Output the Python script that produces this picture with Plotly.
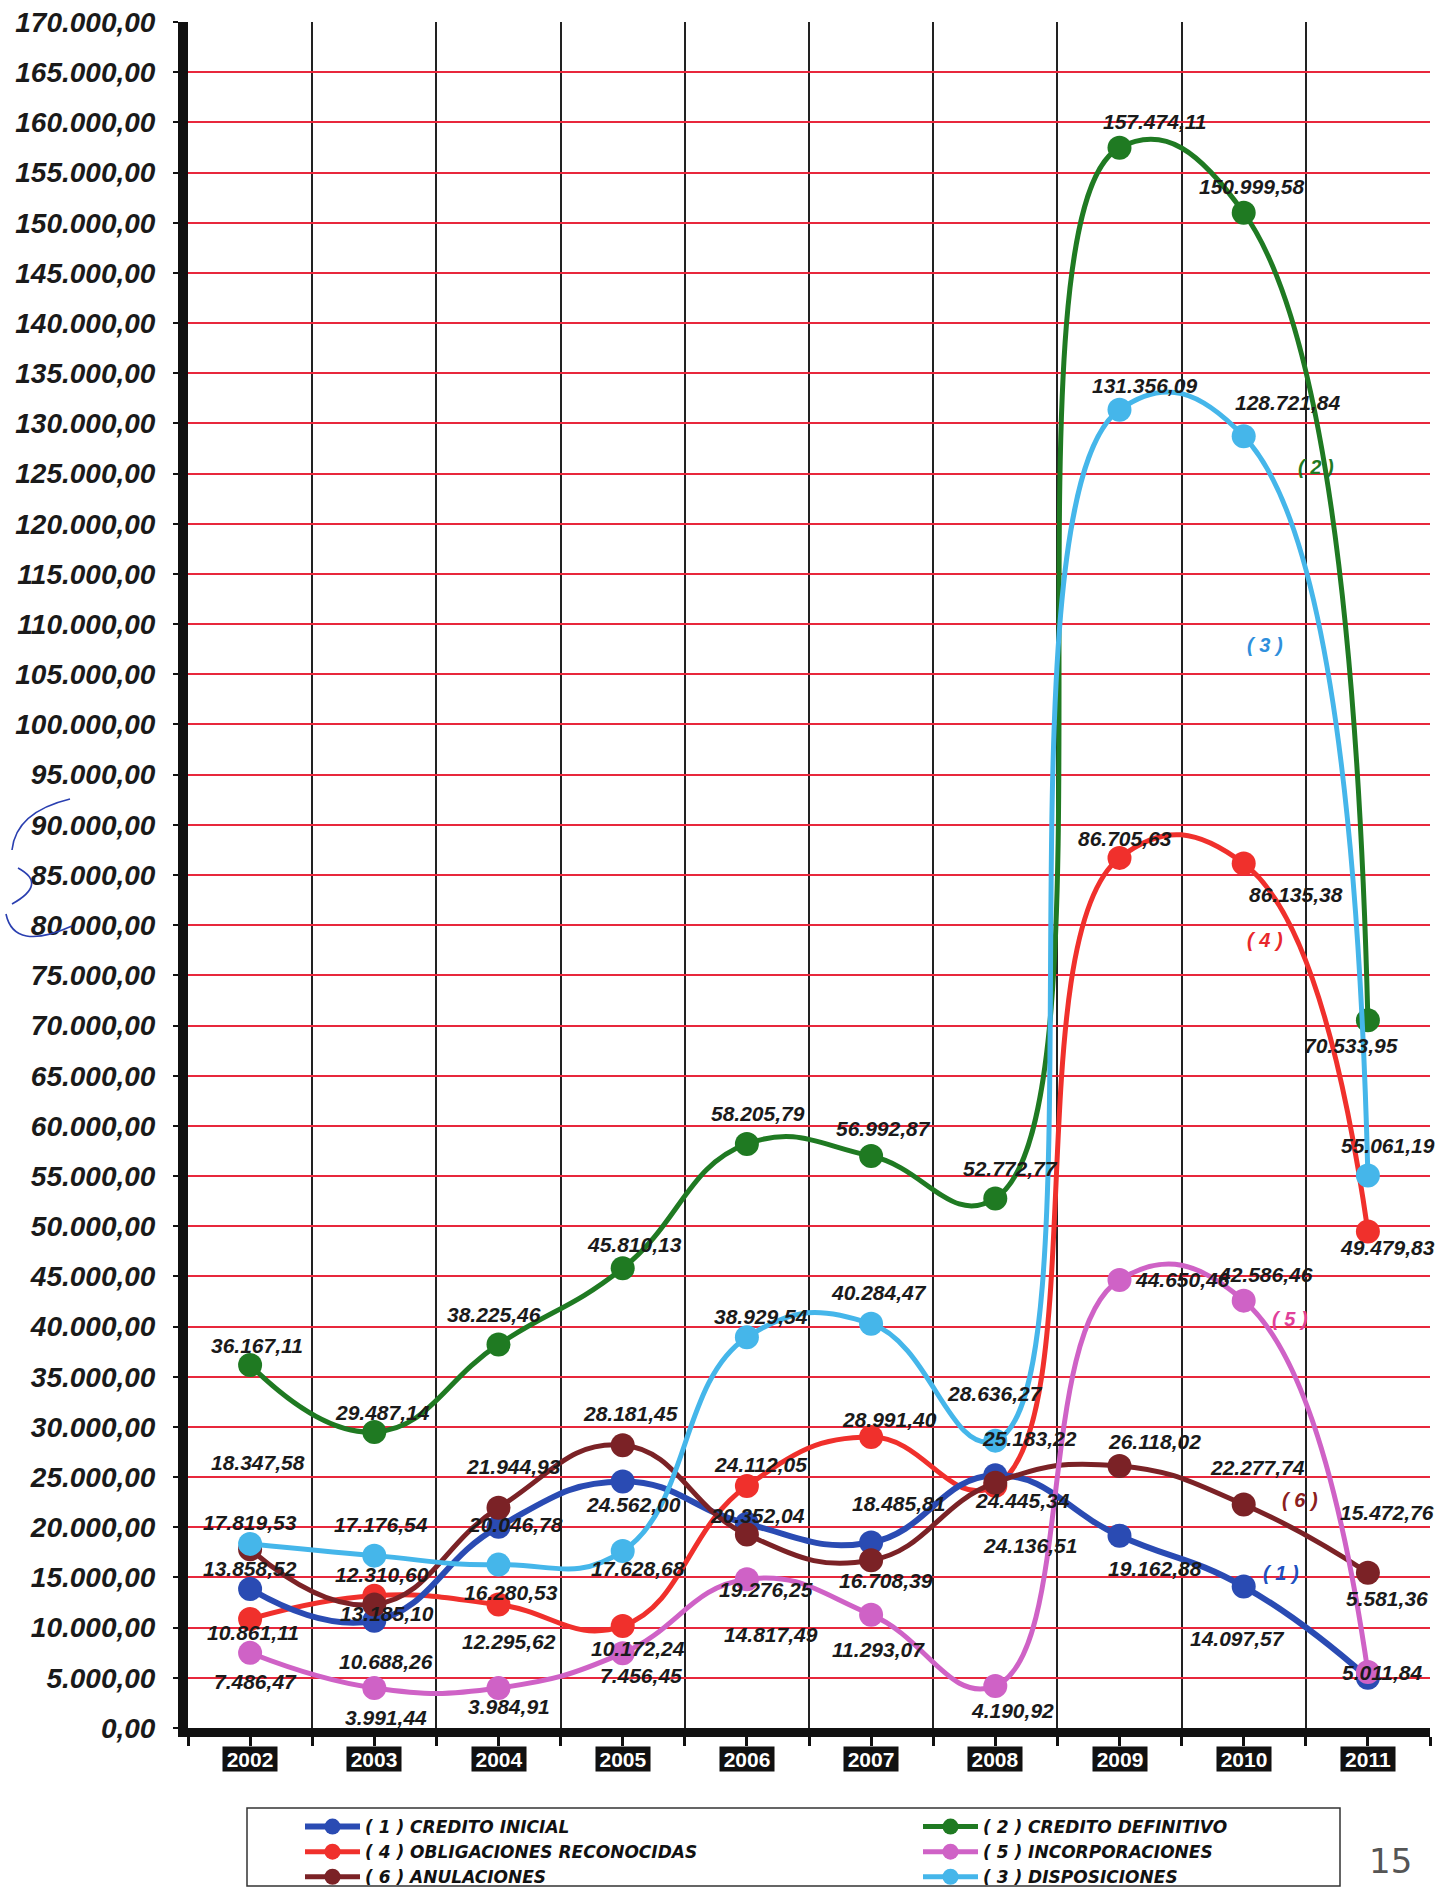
import plotly.graph_objects as go

# ---------------------------------------------------------------- data
years = ["2002", "2003", "2004", "2005", "2006", "2007", "2008", "2009", "2010", "2011"]

credito_inicial = [13858.52, 10688.26, 20046.78, 24562.00, 20352.04,
                   18485.81, 25183.22, 19162.88, 14097.57, 5011.84]
credito_definitivo = [36167.11, 29487.14, 38225.46, 45810.13, 58205.79,
                      56992.87, 52772.77, 157474.11, 150999.58, 70533.95]
disposiciones = [18347.58, 17176.54, 16280.53, 17628.68, 38929.54,
                 40284.47, 28636.27, 131356.09, 128721.84, 55061.19]
obligaciones_reconocidas = [10861.11, 13185.10, 12295.62, 10172.24, 24112.05,
                            28991.40, 24136.51, 86705.63, 86135.38, 49479.83]
incorporaciones = [7486.47, 3991.44, 3984.91, 7456.45, 14817.49,
                   11293.07, 4190.92, 44650.46, 42586.46, 5581.36]
anulaciones = [17819.53, 12310.60, 21944.93, 28181.45, 19276.25,
               16708.39, 24445.34, 26118.02, 22277.74, 15472.76]

# ---------------------------------------------------------------- styling
FONT = "Liberation Sans, Arial, sans-serif"
LEGEND_FONT = "DejaVu Sans, Liberation Sans, sans-serif"
GRID_RED = "#e8283c"

# plot area in figure pixels (used to place frame / page decorations)
PLOT_L, PLOT_R, PLOT_T, PLOT_B = 188, 1430, 22, 1728


def px_to_paper(px, py):
    return ((px - PLOT_L) / (PLOT_R - PLOT_L), (PLOT_B - py) / (PLOT_B - PLOT_T))


# pixel offsets (dx, dy; dy positive = downwards) of each value label from its point
label_offsets = {
    "ini": [(0, -20), (12, 41), (17, -2), (11, 23), (11, -8), (27, -39), (34, -37), (35, 33), (-6, 52), (15, -5)],
    "def": [(7, -20), (8, -20), (-5, -30), (12, -24), (11, -30), (12, -28), (15, -30), (35, -26), (8, -26), (-17, 25)],
    "dis": [(8, -81), (7, -31), (12, 28), (15, 17), (14, -21), (8, -31), (0, -47), (25, -24), (44, -34), (20, -30)],
    "obl": [(3, 13), (13, 18), (10, 37), (15, 23), (14, -22), (18, -18), (35, 60), (5, -19), (52, 31), (20, 16)],
    "inc": [(5, 29), (12, 30), (10, 18), (18, 22), (24, 55), (7, 35), (17, 25), (63, 0), (22, -26), (19, -73)],
    "anu": [(0, -27), (8, -30), (15, -41), (8, -32), (19, 55), (15, 20), (27, 18), (35, -24), (14, -37), (19, -60)],
}

# series in drawing order (bottom to top); rank gives the legend order
series = [
    ("def", "( 2 ) CREDITO DEFINITIVO", credito_definitivo, "#1f7a22", 2, 5),
    ("obl", "( 4 ) OBLIGACIONES RECONOCIDAS", obligaciones_reconocidas, "#f0302c", 3, 5),
    ("ini", "( 1 ) CREDITO INICIAL", credito_inicial, "#2a4bb3", 1, 6),
    ("anu", "( 6 ) ANULACIONES", anulaciones, "#7b2226", 5, 5),
    ("inc", "( 5 ) INCORPORACIONES", incorporaciones, "#cf62c6", 4, 5),
    ("dis", "( 3 ) DISPOSICIONES", disposiciones, "#45b6ea", 6, 5),
]


def es_num(v):
    """Spanish number format: 157.474,11"""
    return f"{v:,.2f}".replace(",", "X").replace(".", ",").replace("X", ".")


x_idx = list(range(len(years)))

fig = go.Figure()
annotations = []

for key, name, vals, color, rank, lw in series:
    fig.add_trace(go.Scatter(
        x=x_idx, y=vals, name=name, mode="lines+markers",
        line=dict(color=color, width=lw, shape="spline", smoothing=1.3),
        marker=dict(color=color, size=24),
        legendrank=rank, cliponaxis=False,
    ))
    for i, v in enumerate(vals):
        dx, dy = label_offsets[key][i]
        annotations.append(dict(
            x=i, y=v, xref="x", yref="y", text=es_num(v), showarrow=False,
            xshift=dx, yshift=-dy,
            font=dict(family=FONT, size=21, color="#1a1a1a", weight="bold", style="italic"),
        ))

# year labels: white on black boxes under the axis
for i, yr in enumerate(years):
    annotations.append(dict(
        x=i, y=0, xref="x", yref="paper", yanchor="middle", xanchor="center", yshift=-31,
        text=yr, showarrow=False, bgcolor="#111111", width=54, height=24, borderpad=0,
        font=dict(family=FONT, size=21, color="white", weight="bold"),
    ))

# series tags next to the falling curves
tags = [
    ("( 2 )", 8.58, 125700, "#1f7a22"),
    ("( 3 )", 8.17, 107900, "#2f8fdc"),
    ("( 4 )", 8.17, 78500, "#e8282c"),
    ("( 5 )", 8.37, 40800, "#e0409a"),
    ("( 6 )", 8.45, 22700, "#8b2020"),
    ("( 1 )", 8.30, 15400, "#2050c0"),
]
for txt, tx, ty, tc in tags:
    annotations.append(dict(
        x=tx, y=ty, xref="x", yref="y", text=txt, showarrow=False,
        font=dict(family=FONT, size=20, color=tc, weight="bold", style="italic"),
    ))

# page number
pn_x, pn_y = px_to_paper(1390, 1861)
annotations.append(dict(
    x=pn_x, y=pn_y, xref="paper", yref="paper", xanchor="center", yanchor="middle",
    text="15", showarrow=False,
    font=dict(family="DejaVu Sans, sans-serif", size=34, color="#555555"),
))

# legend frame
bx0, by0 = px_to_paper(247, 1808)
bx1, by1 = px_to_paper(1340, 1886)
shapes = [dict(type="rect", xref="paper", yref="paper", x0=bx0, y0=by0, x1=bx1, y1=by1,
               line=dict(color="#333333", width=1.5), fillcolor="rgba(0,0,0,0)", layer="below")]


# pen marks in the left margin
def pen_path(points):
    pts = [px_to_paper(px, py) for px, py in points]
    return (f"M {pts[0][0]:.5f},{pts[0][1]:.5f} "
            f"Q {pts[1][0]:.5f},{pts[1][1]:.5f} {pts[2][0]:.5f},{pts[2][1]:.5f}")


for stroke in ([(70, 799), (16, 812), (12, 850)],
               [(18, 868), (48, 884), (12, 904)],
               [(6, 914), (14, 952), (72, 926)]):
    shapes.append(dict(type="path", xref="paper", yref="paper", path=pen_path(stroke),
                       line=dict(color="#2a3fb0", width=1.6)))

leg_x, leg_y = px_to_paper(300, 1809)

fig.update_layout(
    width=1450, height=1890,
    margin=dict(l=PLOT_L, r=1450 - PLOT_R, t=PLOT_T, b=1890 - PLOT_B, autoexpand=False),
    paper_bgcolor="white", plot_bgcolor="white",
    separators=",.",
    showlegend=True,
    legend=dict(
        orientation="h", x=leg_x, y=leg_y, xanchor="left", yanchor="top",
        entrywidth=548, entrywidthmode="pixels", itemwidth=55,
        borderwidth=0, bgcolor="rgba(0,0,0,0)",
        font=dict(family=LEGEND_FONT, size=17, color="#111111", weight="bold", style="italic"),
        traceorder="normal", tracegroupgap=0,
    ),
    xaxis=dict(
        range=[-0.5, 9.5], tickmode="array",
        tickvals=[i - 0.5 for i in range(len(years) + 1)],
        ticktext=[""] * (len(years) + 1),
        showgrid=True, gridcolor="#222222", gridwidth=1.5,
        showline=True, linecolor="#111111", linewidth=9,
        ticks="outside", ticklen=9, tickwidth=3, tickcolor="#111111",
        minor=dict(tickvals=x_idx, ticks="outside", ticklen=9, tickwidth=3,
                   tickcolor="#111111", showgrid=False),
        zeroline=False,
    ),
    yaxis=dict(
        range=[0, 170000], tick0=0, dtick=5000, tickformat=",.2f",
        showgrid=True, gridcolor=GRID_RED, gridwidth=2,
        showline=True, linecolor="#111111", linewidth=10,
        ticks="outside", ticklen=5, tickwidth=2, tickcolor="#111111",
        tickfont=dict(family=FONT, size=28, color="#1a1a1a", weight="bold", style="italic"),
        ticklabelstandoff=12, zeroline=False,
    ),
    annotations=annotations,
    shapes=shapes,
)

fig.write_html("out.html")
